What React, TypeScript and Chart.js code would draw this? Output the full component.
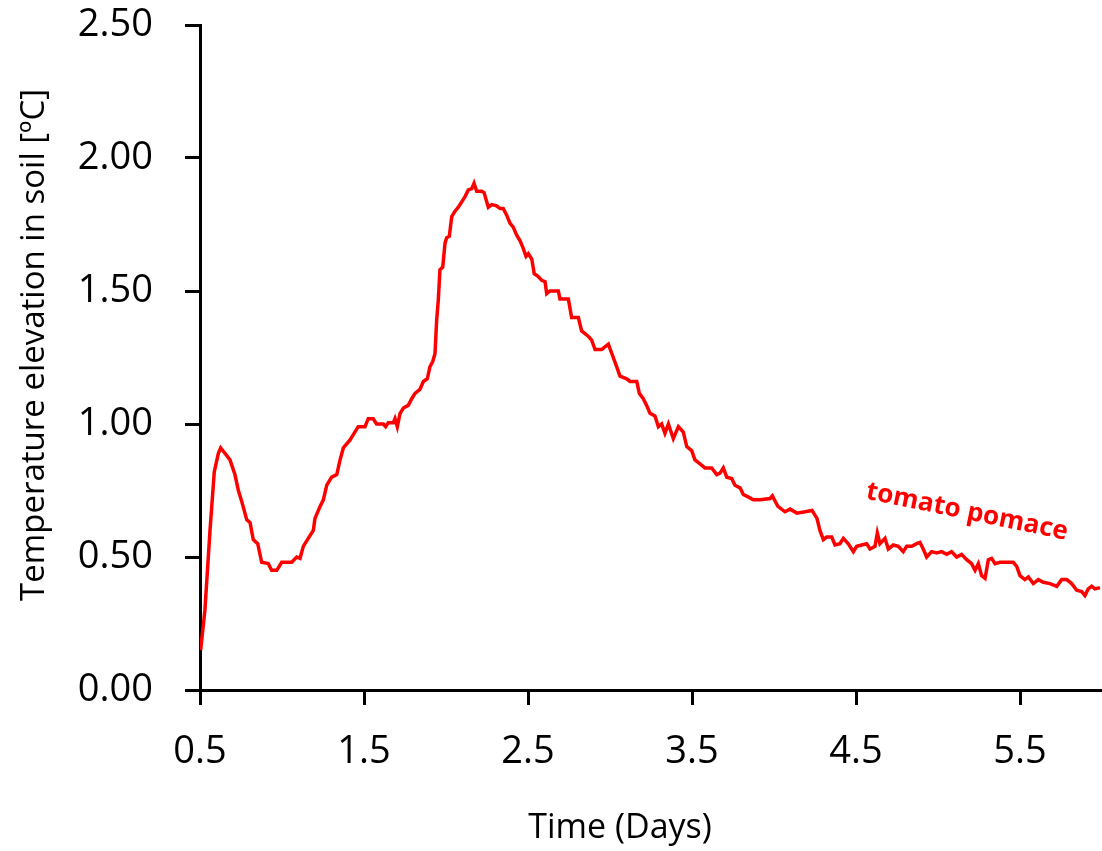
import React, { useEffect, useRef } from "react";
import { Chart, registerables } from "chart.js";

Chart.register(...registerables);

// Time (days) of each reading
const DAYS = [
  0.504, 0.53, 0.561, 0.587, 0.612, 0.626, 0.652, 0.683, 0.713, 0.734, 0.754, 0.785, 0.805, 0.825, 0.852,
  0.876, 0.916, 0.937, 0.968, 0.998, 1.059, 1.09, 1.11, 1.13, 1.16, 1.191, 1.201, 1.232, 1.252, 1.273,
  1.303, 1.334, 1.354, 1.374, 1.415, 1.435, 1.465, 1.506, 1.526, 1.556, 1.577, 1.618, 1.632, 1.648, 1.679,
  1.689, 1.703, 1.72, 1.74, 1.77, 1.791, 1.811, 1.841, 1.862, 1.886, 1.902, 1.919, 1.933, 1.943, 1.953,
  1.963, 1.98, 1.994, 2.004, 2.02, 2.035, 2.055, 2.075, 2.096, 2.116, 2.136, 2.157, 2.171, 2.187, 2.218,
  2.232, 2.258, 2.279, 2.309, 2.329, 2.349, 2.37, 2.39, 2.41, 2.431, 2.451, 2.471, 2.488, 2.502, 2.523,
  2.538, 2.561, 2.584, 2.604, 2.614, 2.634, 2.685, 2.695, 2.746, 2.766, 2.807, 2.827, 2.867, 2.888, 2.909,
  2.949, 2.99, 3.02, 3.041, 3.061, 3.102, 3.122, 3.163, 3.179, 3.203, 3.227, 3.244, 3.274, 3.295, 3.315,
  3.335, 3.356, 3.386, 3.417, 3.447, 3.468, 3.498, 3.518, 3.549, 3.579, 3.62, 3.651, 3.671, 3.691, 3.712,
  3.742, 3.762, 3.793, 3.813, 3.845, 3.874, 3.915, 3.976, 3.99, 4.024, 4.067, 4.098, 4.14, 4.189, 4.232,
  4.262, 4.28, 4.301, 4.321, 4.352, 4.372, 4.402, 4.423, 4.453, 4.484, 4.504, 4.535, 4.565, 4.585, 4.616,
  4.63, 4.646, 4.677, 4.697, 4.727, 4.758, 4.788, 4.809, 4.84, 4.87, 4.89, 4.91, 4.931, 4.961, 4.992,
  5.022, 5.053, 5.083, 5.114, 5.144, 5.175, 5.205, 5.226, 5.246, 5.266, 5.287, 5.307, 5.327, 5.348, 5.378,
  5.459, 5.48, 5.5, 5.53, 5.551, 5.581, 5.612, 5.642, 5.683, 5.724, 5.754, 5.785, 5.815, 5.846, 5.876,
  5.896, 5.916, 5.937, 5.957, 5.988,
];

// Temperature elevation in soil [ºC]
const TEMP = [
  0.15, 0.3, 0.6, 0.82, 0.89, 0.91, 0.89, 0.865, 0.81, 0.75, 0.71, 0.64, 0.63, 0.565, 0.55,
  0.48, 0.475, 0.45, 0.45, 0.48, 0.48, 0.5, 0.495, 0.54, 0.57, 0.6, 0.645, 0.69, 0.715, 0.77,
  0.8, 0.81, 0.865, 0.91, 0.94, 0.96, 0.99, 0.99, 1.02, 1.02, 1.0, 1.0, 0.99, 1.005, 1.005,
  1.02, 0.99, 1.04, 1.06, 1.07, 1.095, 1.115, 1.13, 1.16, 1.17, 1.215, 1.235, 1.265, 1.39, 1.466,
  1.58, 1.59, 1.68, 1.7, 1.705, 1.78, 1.8, 1.815, 1.835, 1.855, 1.88, 1.885, 1.905, 1.875, 1.875,
  1.87, 1.815, 1.825, 1.82, 1.81, 1.81, 1.785, 1.755, 1.74, 1.71, 1.69, 1.66, 1.63, 1.64, 1.62,
  1.565, 1.555, 1.54, 1.535, 1.49, 1.5, 1.5, 1.47, 1.47, 1.4, 1.4, 1.35, 1.33, 1.315, 1.28,
  1.28, 1.3, 1.25, 1.215, 1.18, 1.17, 1.16, 1.16, 1.115, 1.095, 1.065, 1.04, 1.03, 0.99, 1.0,
  0.965, 1.0, 0.945, 0.99, 0.97, 0.915, 0.9, 0.865, 0.85, 0.835, 0.835, 0.81, 0.815, 0.835, 0.8,
  0.795, 0.77, 0.76, 0.735, 0.725, 0.715, 0.715, 0.72, 0.73, 0.69, 0.67, 0.68, 0.665, 0.67, 0.675,
  0.645, 0.6, 0.565, 0.575, 0.575, 0.545, 0.55, 0.57, 0.55, 0.52, 0.54, 0.545, 0.55, 0.53, 0.54,
  0.59, 0.55, 0.57, 0.53, 0.545, 0.54, 0.52, 0.54, 0.54, 0.55, 0.555, 0.53, 0.5, 0.52, 0.515,
  0.52, 0.51, 0.52, 0.5, 0.51, 0.49, 0.475, 0.45, 0.475, 0.43, 0.42, 0.49, 0.495, 0.475, 0.48,
  0.48, 0.465, 0.43, 0.415, 0.425, 0.4, 0.415, 0.405, 0.4, 0.39, 0.415, 0.415, 0.4, 0.375, 0.37,
  0.355, 0.38, 0.39, 0.38, 0.385,
];

const X_TICKS = [0.5, 1.5, 2.5, 3.5, 4.5, 5.5];
const Y_TICKS = [0, 0.5, 1.0, 1.5, 2.0, 2.5];
const X_MIN = 0.5;
const X_MAX = 6.0;
const Y_MIN = 0;
const Y_MAX = 2.5;

const X_TITLE = "Time (Days)";
const Y_TITLE = "Temperature elevation in soil [ºC]";
const SERIES_NAME = "tomato pomace";
const SERIES_LABEL_AT = { x: 4.555, y: 0.72 };

const FONT = "'Open Sans', 'Noto Sans', sans-serif";
const RED = "#ff0000";

const textPlugin = {
  id: "textPlugin",
  afterDraw(chart: any) {
    const { ctx, scales } = chart;
    ctx.save();
    ctx.fillStyle = "#000";
    ctx.textAlign = "center";
    ctx.textBaseline = "middle";
    ctx.font = `34px ${FONT}`;
    ctx.fillText(X_TITLE, 620, 828);
    ctx.font = `33px ${FONT}`;
    ctx.translate(35, 345);
    ctx.rotate(-Math.PI / 2);
    ctx.fillText(Y_TITLE, 0, 0);
    ctx.restore();

    ctx.save();
    const px = scales.x.getPixelForValue(SERIES_LABEL_AT.x);
    const py = scales.y.getPixelForValue(SERIES_LABEL_AT.y);
    ctx.translate(px, py);
    ctx.rotate((11.6 * Math.PI) / 180);
    ctx.font = `bold 26px ${FONT}`;
    ctx.fillStyle = RED;
    ctx.textAlign = "left";
    ctx.textBaseline = "alphabetic";
    ctx.fillText(SERIES_NAME, 0, 0);
    ctx.restore();
  },
};

export default function App() {
  const ref = useRef<HTMLCanvasElement | null>(null);

  useEffect(() => {
    document.body.style.margin = "0";
    if (!ref.current) return;
    const data = DAYS.map((d, i) => ({ x: d, y: TEMP[i] }));
    const chart = new Chart(ref.current, {
      type: "line",
      data: {
        datasets: [
          {
            label: SERIES_NAME,
            data,
            borderColor: RED,
            backgroundColor: RED,
            borderWidth: 3.5,
            pointRadius: 0,
            tension: 0,
            fill: false,
          },
        ],
      },
      options: {
        animation: false,
        responsive: false,
        devicePixelRatio: 1,
        layout: { padding: { top: 25, left: 0, right: 0, bottom: 0 } },
        plugins: {
          legend: { display: false },
          tooltip: { enabled: false },
        },
        scales: {
          x: {
            type: "linear",
            min: X_MIN,
            max: X_MAX,
            afterBuildTicks: (s: any) => {
              s.ticks = X_TICKS.map((v) => ({ value: v }));
            },
            afterFit: (s: any) => {
              s.height = 161;
              s.paddingLeft = 0;
              s.paddingRight = 0;
            },
            border: { display: true, color: "#000", width: 3 },
            grid: {
              drawOnChartArea: false,
              drawTicks: true,
              tickLength: 15,
              tickWidth: 3,
              tickColor: "#000",
            },
            ticks: {
              color: "#000",
              font: { family: FONT, size: 38 },
              padding: 24,
              maxRotation: 0,
              autoSkip: false,
              callback: (v: any) => Number(v).toFixed(1),
            },
          },
          y: {
            type: "linear",
            min: Y_MIN,
            max: Y_MAX,
            afterBuildTicks: (s: any) => {
              s.ticks = Y_TICKS.map((v) => ({ value: v }));
            },
            afterFit: (s: any) => {
              s.width = 200;
              s.paddingTop = 0;
              s.paddingBottom = 0;
            },
            border: { display: true, color: "#000", width: 3 },
            grid: {
              drawOnChartArea: false,
              drawTicks: true,
              tickLength: 15,
              tickWidth: 3,
              tickColor: "#000",
            },
            ticks: {
              color: "#000",
              font: { family: FONT, size: 38 },
              padding: 32,
              autoSkip: false,
              callback: (v: any) => Number(v).toFixed(2),
            },
          },
        },
      },
      plugins: [textPlugin],
    });
    return () => chart.destroy();
  }, []);

  return (
    <div style={{ width: 1102, height: 851, position: "relative" }}>
      <canvas ref={ref} width={1102} height={851} style={{ display: "block" }} />
    </div>
  );
}
